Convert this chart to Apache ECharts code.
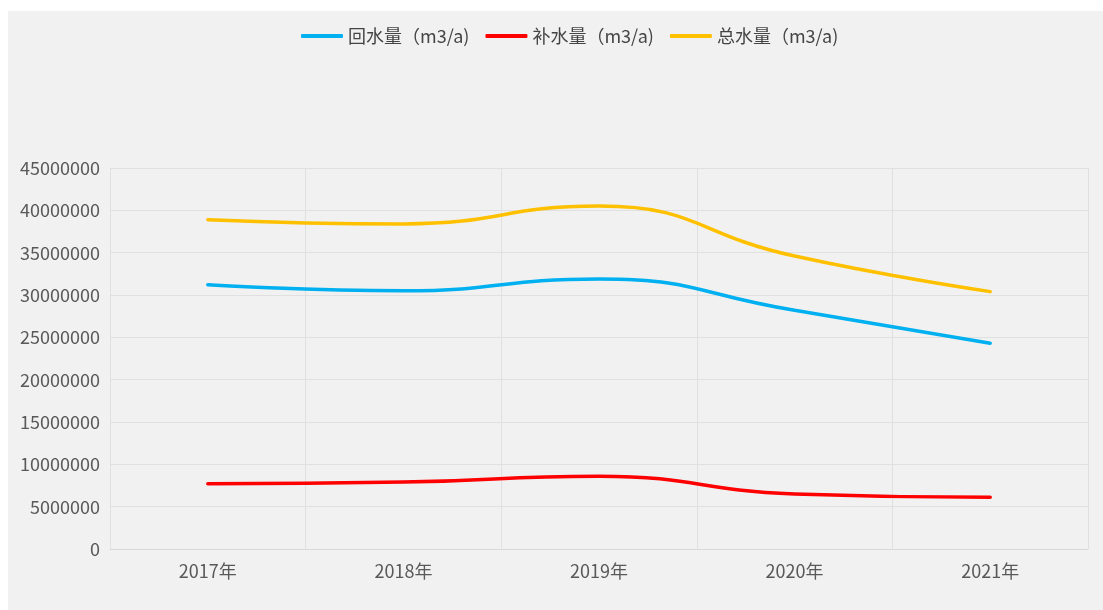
<!DOCTYPE html>
<html><head><meta charset="utf-8">
<script src="https://cdn.jsdelivr.net/npm/echarts@6/dist/echarts.min.js"></script>
<style>
html,body{margin:0;padding:0;background:#fff;width:1103px;height:610px;overflow:hidden;}
#c{position:absolute;left:8px;top:11px;width:1095px;height:599px;background:#f1f1f1;}
</style></head>
<body><div id="c"></div>
<script>
const categories = ['2017年','2018年','2019年','2020年','2021年'];
const returnWater = [31200000, 30500000, 31900000, 28200000, 24300000];
const makeupWater = [7700000, 7900000, 8600000, 6500000, 6100000];
const totalWater = [38900000, 38400000, 40500000, 34600000, 30400000];
const seriesNames = ['回水量（m3/a)', '补水量（m3/a)', '总水量（m3/a)'];
const colors = ['#00b0f0', '#ff0000', '#ffc000'];

const chart = echarts.init(document.getElementById('c'));
const font = '"Noto Sans CJK SC", "Noto Sans", sans-serif';
chart.setOption({
  backgroundColor: '#f1f1f1',
  color: colors,
  legend: {
    top: 11, left: 288,
    itemWidth: 42, itemHeight: 4, itemGap: 16,
    icon: 'roundRect',
    textStyle: { fontSize: 18, color: '#444', fontFamily: font },
    data: seriesNames
  },
  grid: { left: 102, right: 15, top: 157, bottom: 61, containLabel: false },
  xAxis: {
    type: 'category',
    data: categories,
    boundaryGap: true,
    axisLine: { show: true, lineStyle: { color: '#d9d9d9' } },
    axisTick: { show: false },
    axisLabel: { fontSize: 18, color: '#595959', fontFamily: font, margin: 13 },
    splitLine: { show: true, lineStyle: { color: '#e0e0e0' } }
  },
  yAxis: {
    type: 'value',
    min: 0, max: 45000000, interval: 5000000,
    axisLine: { show: false },
    axisTick: { show: false },
    axisLabel: { fontSize: 18, color: '#595959', fontFamily: font, margin: 10, formatter: v => String(v) },
    splitLine: { show: true, lineStyle: { color: '#e0e0e0' } }
  },
  series: [
    { name: seriesNames[0], type: 'line', smooth: true, showSymbol: false, data: returnWater, lineStyle: { width: 3.5, cap: 'round' } },
    { name: seriesNames[1], type: 'line', smooth: true, showSymbol: false, data: makeupWater, lineStyle: { width: 3.5, cap: 'round' } },
    { name: seriesNames[2], type: 'line', smooth: true, showSymbol: false, data: totalWater, lineStyle: { width: 3.5, cap: 'round' } }
  ],
  animation: false
});
</script></body></html>
